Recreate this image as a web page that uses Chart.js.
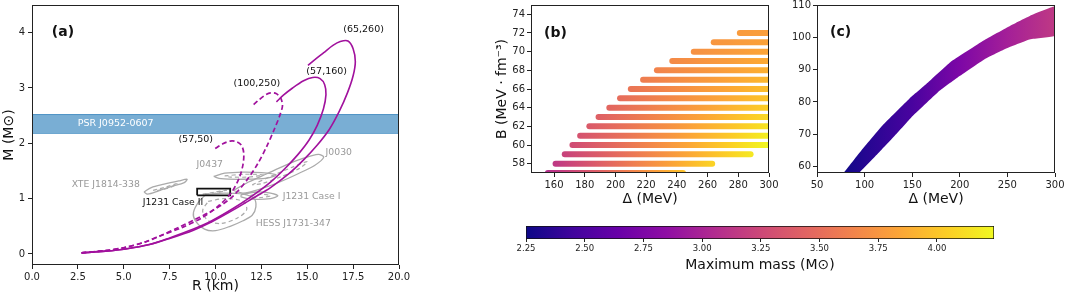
<!DOCTYPE html>
<html>
<head>
<meta charset="utf-8">
<script src="https://cdn.jsdelivr.net/npm/chart.js@4.4.1/dist/chart.umd.min.js"></script>
<style>
  body { margin: 0; background: #fff; width: 1065px; height: 299px; position: relative; overflow: hidden; }
  canvas { position: absolute; }
</style>
</head>
<body>
<canvas id="cA" width="410" height="299" style="left:0;top:0"></canvas>
<canvas id="cB" width="290" height="212" style="left:490px;top:0"></canvas>
<canvas id="cC" width="285" height="212" style="left:780px;top:0"></canvas>
<canvas id="cBar" width="520" height="87" style="left:500px;top:212px"></canvas>
<script>
// ---- panel (a): mass-radius curves [R (km), M (Msun)] ----
const curve65_260 = [[2.7,0.02],[4.0,0.05],[5.1,0.09],[6.4,0.17],[7.5,0.28],[8.8,0.43],[9.8,0.58],[11.0,0.8],[12.0,1.0],[13.0,1.2],[14.0,1.45],[14.8,1.7],[15.5,1.95],[16.2,2.25],[16.75,2.58],[17.2,2.92],[17.5,3.22],[17.62,3.48],[17.5,3.71],[17.22,3.85],[16.8,3.84],[16.4,3.77],[15.9,3.64],[15.4,3.51],[15.04,3.41]];
const curve57_160 = [[2.7,0.02],[4.0,0.05],[5.1,0.09],[6.4,0.17],[7.5,0.29],[8.8,0.45],[9.8,0.6],[11.0,0.83],[12.0,1.05],[13.0,1.3],[13.8,1.55],[14.5,1.8],[15.1,2.06],[15.55,2.33],[15.88,2.62],[16.02,2.88],[15.95,3.06],[15.7,3.17],[15.3,3.19],[14.8,3.13],[14.2,3.0],[13.7,2.87],[13.32,2.75]];
const curve100_250 = [[2.7,0.02],[4.0,0.06],[5.1,0.12],[6.2,0.22],[7.0,0.33],[8.0,0.48],[8.8,0.61],[9.7,0.76],[10.4,0.9],[11.0,1.06],[11.7,1.33],[12.3,1.63],[12.8,1.95],[13.2,2.25],[13.5,2.5],[13.65,2.68],[13.55,2.82],[13.3,2.9],[13.0,2.91],[12.7,2.87],[12.35,2.78],[12.08,2.7]];
const curve57_50 = [[2.7,0.02],[4.0,0.06],[5.1,0.12],[6.2,0.22],[7.0,0.33],[8.2,0.48],[9.3,0.66],[10.2,0.88],[10.85,1.1],[11.3,1.38],[11.5,1.62],[11.54,1.82],[11.42,1.96],[11.15,2.03],[10.8,2.04],[10.4,1.99],[9.96,1.9]];
const psrBand = [2.18, 2.52];

// observational contours (outer solid, inner dashed)
const xteOut = [[6.1,1.12],[6.5,1.2],[7.2,1.26],[8.0,1.32],[8.45,1.35],[8.3,1.29],[7.6,1.22],[6.9,1.14],[6.3,1.08],[6.1,1.12]];
const xteIn = [[6.6,1.15],[7.2,1.2],[7.9,1.27],[7.6,1.21],[6.9,1.15],[6.6,1.15]];
const j0437Out = [[9.9,1.4],[10.5,1.46],[11.5,1.48],[12.5,1.47],[13.3,1.43],[12.8,1.37],[11.5,1.35],[10.3,1.36],[9.9,1.4]];
const j0437In = [[10.5,1.41],[11.5,1.44],[12.6,1.43],[11.8,1.39],[10.8,1.39],[10.5,1.41]];
const j0030Out = [[11.0,1.15],[11.8,1.3],[12.8,1.45],[13.8,1.6],[14.8,1.73],[15.6,1.8],[15.9,1.75],[15.4,1.6],[14.5,1.45],[13.5,1.3],[12.5,1.18],[11.5,1.1],[11.0,1.15]];
const j0030In = [[12.0,1.25],[13.0,1.4],[14.2,1.57],[15.0,1.67],[14.6,1.55],[13.6,1.4],[12.5,1.27],[12.0,1.25]];
const j1231aOut = [[11.4,1.07],[12.2,1.12],[13.0,1.1],[13.4,1.05],[13.0,1.0],[12.0,0.99],[11.4,1.03],[11.4,1.07]];
const j1231aIn = [[11.9,1.06],[12.5,1.08],[13.0,1.05],[12.5,1.02],[11.9,1.03],[11.9,1.06]];
const hessOut = [[9.5,1.08],[10.5,1.1],[11.5,1.08],[12.1,1.0],[12.2,0.85],[12.0,0.7],[11.5,0.6],[10.8,0.5],[10.0,0.42],[9.4,0.45],[8.9,0.6],[8.8,0.75],[9.1,0.95],[9.5,1.08]];
const hessIn = [[9.6,0.95],[10.5,1.0],[11.5,0.95],[11.7,0.8],[11.2,0.65],[10.3,0.55],[9.6,0.6],[9.3,0.78],[9.6,0.95]];
const j1231bIn = [[9.3,1.08],[10.0,1.12],[10.6,1.15],[10.0,1.1],[9.3,1.08]];
const j1231bBox = [[9.0,1.06],[10.8,1.06],[10.8,1.18],[9.0,1.18],[9.0,1.06]];

// ---- panel (b): rows of B, Delta range and max mass at both ends ----
const rowsB     = [57, 58, 59, 60, 61, 62, 63, 64, 65, 66, 67, 68, 69, 70, 71, 72];
const rowStart  = [156, 161, 167, 172, 177, 183, 189, 196, 203, 210, 218, 227, 237, 251, 264, 281];
const rowEnd    = [244, 263, 288, 300, 300, 300, 300, 300, 300, 300, 300, 300, 300, 300, 300, 300];
const massStart = [3.08, 3.15, 3.22, 3.28, 3.33, 3.38, 3.42, 3.46, 3.5, 3.55, 3.6, 3.64, 3.68, 3.72, 3.75, 3.78];
const massEnd   = [3.98, 4.06, 4.16, 4.24, 4.2, 4.15, 4.1, 4.05, 4.0, 3.97, 3.94, 3.9, 3.87, 3.84, 3.82, 3.8];

// ---- panel (c): allowed band edges [Delta, B] and max mass along Delta ----
const upperC = [[77,57.6],[98,65.5],[119,72.8],[147,81.0],[165,85.6],[190,92.3],[225,99.0],[253,103.6],[274,106.7],[300,109.5]];
const lowerC = [[93,57.6],[114,64.0],[135,70.6],[149,75.2],[177,83.0],[198,87.6],[226,93.2],[247,96.3],[274,99.4],[300,100.5]];
const massC = [[80,2.27],[100,2.34],[150,2.49],[200,2.75],[250,2.97],[300,3.15]];

// ---- ticks ----
const ticksAx = [0, 2.5, 5, 7.5, 10, 12.5, 15, 17.5, 20];
const ticksAy = [0, 1, 2, 3, 4];
const ticksBx = [160, 180, 200, 220, 240, 260, 280, 300];
const ticksBy = [58, 60, 62, 64, 66, 68, 70, 72, 74];
const ticksCx = [50, 100, 150, 200, 250, 300];
const ticksCy = [60, 70, 80, 90, 100, 110];
const ticksBar = [2.25, 2.5, 2.75, 3.0, 3.25, 3.5, 3.75, 4.0];
const massMin = 2.25, massMax = 4.243;

const FONT = "'DejaVu Sans', sans-serif";
const plasma = ['#0d0887','#41049d','#6a00a8','#8f0da4','#b12a90','#cc4778','#e16462','#f2844b','#fca636','#fcce25','#f0f921'];
const purple = '#a1119d';
const gray = '#aaaaaa';

function hexRgb(h) { return [1, 3, 5].map(i => parseInt(h.slice(i, i + 2), 16)); }
function massColor(m) {
  let t = (m - massMin) / (massMax - massMin);
  t = Math.max(0, Math.min(1, t));
  const f = t * 10, i = Math.min(9, Math.floor(f)), u = f - i;
  const a = hexRgb(plasma[i]), b = hexRgb(plasma[i + 1]);
  return 'rgb(' + a.map((v, k) => Math.round(v + (b[k] - v) * u)).join(',') + ')';
}
const pts = arr => arr.map(p => ({ x: p[0], y: p[1] }));

function axis(o) {
  const horiz = o.pos === 'bottom';
  return {
    type: 'linear', position: o.pos, min: o.min, max: o.max, display: true,
    afterBuildTicks: s => { s.ticks = o.ticks.map(v => ({ value: v })); },
    afterFit: s => {
      if (horiz) s.height = o.size; else s.width = o.size;
      s.paddingLeft = s.paddingRight = s.paddingTop = s.paddingBottom = 0;
    },
    border: { display: false },
    grid: { drawOnChartArea: false, drawTicks: true, tickLength: o.tickLen || 4, color: '#222' },
    ticks: { color: '#222', font: { family: FONT, size: o.tickSize || 10 }, padding: o.pad || 2,
             maxRotation: 0, autoSkip: false, callback: o.fmt || (v => String(v)) },
    title: { display: !!o.title, text: o.title, color: '#111', font: { family: FONT, size: 14 },
             padding: o.titlePad || { top: 4, bottom: 4 } }
  };
}

const framePlugin = {
  id: 'frame',
  afterDraw(chart) {
    const a = chart.chartArea, c = chart.ctx;
    c.save(); c.strokeStyle = '#222'; c.lineWidth = 1;
    c.strokeRect(Math.round(a.left) + 0.5, Math.round(a.top) + 0.5, Math.round(a.right - a.left) - 1, Math.round(a.bottom - a.top) - 1);
    c.restore();
  }
};
function notes(items) {
  return {
    id: 'notes',
    afterDatasetsDraw(chart) {
      const c = chart.ctx, xs = chart.scales.x, ys = chart.scales.y;
      c.save();
      items.forEach(it => {
        c.font = (it.bold ? 'bold ' : '') + it.size + 'px ' + FONT;
        c.fillStyle = it.color || '#111';
        c.textAlign = it.align || 'left';
        c.textBaseline = 'middle';
        c.fillText(it.t, xs.getPixelForValue(it.x), ys.getPixelForValue(it.y));
      });
      c.restore();
    }
  };
}

function line(data, color, width, dash) {
  return { data: pts(data), showLine: true, borderColor: color, borderWidth: width, borderDash: dash || [],
           pointRadius: 0, fill: false, tension: 0.3 };
}

// ---------- panel (a) ----------
new Chart(document.getElementById('cA'), {
  type: 'scatter',
  data: { datasets: [
    line(curve65_260, purple, 1.6),
    line(curve57_160, purple, 1.6),
    line(curve100_250, purple, 1.7, [5, 3]),
    line(curve57_50, purple, 1.7, [5, 3]),
    { ...line(j1231bBox, '#111', 1.8), tension: 0 },
    line(j1231bIn, gray, 1.2, [4, 3]),
    line(xteOut, gray, 1.3), line(xteIn, gray, 1.2, [4, 3]),
    line(j0437Out, gray, 1.3), line(j0437In, gray, 1.2, [4, 3]),
    line(j0030Out, gray, 1.3), line(j0030In, gray, 1.2, [4, 3]),
    line(j1231aOut, gray, 1.3), line(j1231aIn, gray, 1.2, [4, 3]),
    line(hessOut, gray, 1.3), line(hessIn, gray, 1.2, [4, 3]),
    { data: [{ x: 0, y: psrBand[1] }, { x: 20, y: psrBand[1] }], showLine: true, pointRadius: 0,
      borderColor: '#4f93c6', borderWidth: 1, fill: '+1', backgroundColor: '#79aed4' },
    { data: [{ x: 0, y: psrBand[0] }, { x: 20, y: psrBand[0] }], showLine: true, pointRadius: 0,
      borderColor: '#4f93c6', borderWidth: 1, fill: false }
  ] },
  options: {
    responsive: false, animation: false,
    layout: { padding: { top: 5, right: 11, left: 0, bottom: 0 }, autoPadding: false },
    plugins: { legend: { display: false }, tooltip: { enabled: false } },
    scales: {
      x: axis({ pos: 'bottom', min: 0, max: 20, ticks: ticksAx, size: 34, title: 'R (km)', fmt: v => v.toFixed(1) }),
      y: axis({ pos: 'left', min: -0.2, max: 4.5, ticks: ticksAy, size: 32, pad: 3, title: 'M (M\u2299)', titlePad: { top: 1, bottom: 4 } })
    }
  },
  plugins: [framePlugin, notes([
    { t: '(a)', x: 1.08, y: 4.0, size: 14, bold: true },
    { t: '(65,260)', x: 18.07, y: 4.06, size: 9.5, align: 'center' },
    { t: '(57,160)', x: 16.06, y: 3.30, size: 9.5, align: 'center' },
    { t: '(100,250)', x: 12.25, y: 3.08, size: 9.5, align: 'center' },
    { t: '(57,50)', x: 8.92, y: 2.07, size: 9.5, align: 'center' },
    { t: 'PSR J0952-0607', x: 2.49, y: 2.35, size: 9.5, color: '#ffffff' },
    { t: 'J0030', x: 16.0, y: 1.84, size: 9.3, color: '#999' },
    { t: 'J0437', x: 8.97, y: 1.62, size: 9.3, color: '#999' },
    { t: 'XTE J1814-338', x: 2.16, y: 1.26, size: 9.3, color: '#999' },
    { t: 'J1231 Case I', x: 13.66, y: 1.04, size: 9.3, color: '#999' },
    { t: 'HESS J1731-347', x: 12.19, y: 0.55, size: 9.3, color: '#999' },
    { t: 'J1231 Case II', x: 6.03, y: 0.92, size: 9.3, color: '#111' }
  ])]
});

// ---------- panel (b) ----------
function rowGradient(i) {
  return ctx => {
    const ch = ctx.chart;
    if (!ch.chartArea) return massColor(massStart[i]);
    const xs = ch.scales.x;
    const x0 = xs.getPixelForValue(rowStart[i]), x1 = xs.getPixelForValue(rowEnd[i]);
    const g = ch.ctx.createLinearGradient(x0, 0, x1, 0);
    for (let k = 0; k <= 10; k++) g.addColorStop(k / 10, massColor(massStart[i] + (massEnd[i] - massStart[i]) * k / 10));
    return g;
  };
}
new Chart(document.getElementById('cB'), {
  type: 'scatter',
  data: { datasets: rowsB.map((b, i) => ({
    data: [{ x: rowStart[i], y: b }, { x: rowEnd[i], y: b }], showLine: true, pointRadius: 0,
    borderWidth: 6, borderCapStyle: 'round', borderColor: rowGradient(i), clip: 0, fill: false
  })) },
  options: {
    responsive: false, animation: false,
    layout: { padding: { top: 5, right: 11, left: 0, bottom: 0 }, autoPadding: false },
    plugins: { legend: { display: false }, tooltip: { enabled: false } },
    scales: {
      x: axis({ pos: 'bottom', min: 145, max: 300, ticks: ticksBx, size: 39, title: '\u0394 (MeV)' }),
      y: axis({ pos: 'left', min: 57, max: 75, ticks: ticksBy, size: 41, title: 'B (MeV \u00b7 fm\u207b\u00b3)' })
    }
  },
  plugins: [framePlugin, notes([{ t: '(b)', x: 153.5, y: 72.0, size: 14, bold: true }])]
});

// ---------- panel (c) ----------
new Chart(document.getElementById('cC'), {
  type: 'scatter',
  data: { datasets: [{
    data: pts(upperC.concat(lowerC.slice().reverse())), showLine: true, pointRadius: 0,
    borderWidth: 0, tension: 0.1, fill: 'shape',
    backgroundColor: ctx => {
      const ch = ctx.chart;
      if (!ch.chartArea) return massColor(2.7);
      const xs = ch.scales.x;
      const x0 = xs.getPixelForValue(massC[0][0]), x1 = xs.getPixelForValue(massC[massC.length - 1][0]);
      const g = ch.ctx.createLinearGradient(x0, 0, x1, 0);
      massC.forEach(p => g.addColorStop((xs.getPixelForValue(p[0]) - x0) / (x1 - x0), massColor(p[1])));
      return g;
    }
  }] },
  options: {
    responsive: false, animation: false,
    layout: { padding: { top: 5, right: 10, left: 0, bottom: 0 }, autoPadding: false },
    plugins: { legend: { display: false }, tooltip: { enabled: false } },
    scales: {
      x: axis({ pos: 'bottom', min: 50, max: 300, ticks: ticksCx, size: 39, title: '\u0394 (MeV)' }),
      y: axis({ pos: 'left', min: 58, max: 110, ticks: ticksCy, size: 37 })
    }
  },
  plugins: [framePlugin, notes([{ t: '(c)', x: 63.7, y: 101.4, size: 14, bold: true }])]
});

// ---------- colour bar ----------
new Chart(document.getElementById('cBar'), {
  type: 'bar',
  data: { labels: [''], datasets: [{
    data: [[massMin, massMax]], barPercentage: 1, categoryPercentage: 1,
    borderColor: '#111', borderWidth: 1, borderSkipped: false,
    backgroundColor: ctx => {
      const ch = ctx.chart;
      if (!ch.chartArea) return massColor(3);
      const xs = ch.scales.x;
      const x0 = xs.getPixelForValue(massMin), x1 = xs.getPixelForValue(massMax);
      const g = ch.ctx.createLinearGradient(x0, 0, x1, 0);
      for (let k = 0; k <= 20; k++) g.addColorStop(k / 20, massColor(massMin + (massMax - massMin) * k / 20));
      return g;
    }
  }] },
  options: {
    indexAxis: 'y', responsive: false, animation: false,
    layout: { padding: { top: 14, right: 26, left: 26, bottom: 0 }, autoPadding: false },
    plugins: { legend: { display: false }, tooltip: { enabled: false } },
    scales: {
      x: axis({ pos: 'bottom', min: massMin, max: massMax, ticks: ticksBar, size: 60, tickSize: 8.5, tickLen: 3,
                title: 'Maximum mass (M\u2299)', fmt: v => v.toFixed(2), titlePad: { top: 0, bottom: 25 } }),
      y: { display: false }
    }
  }
});
</script>
</body>
</html>
